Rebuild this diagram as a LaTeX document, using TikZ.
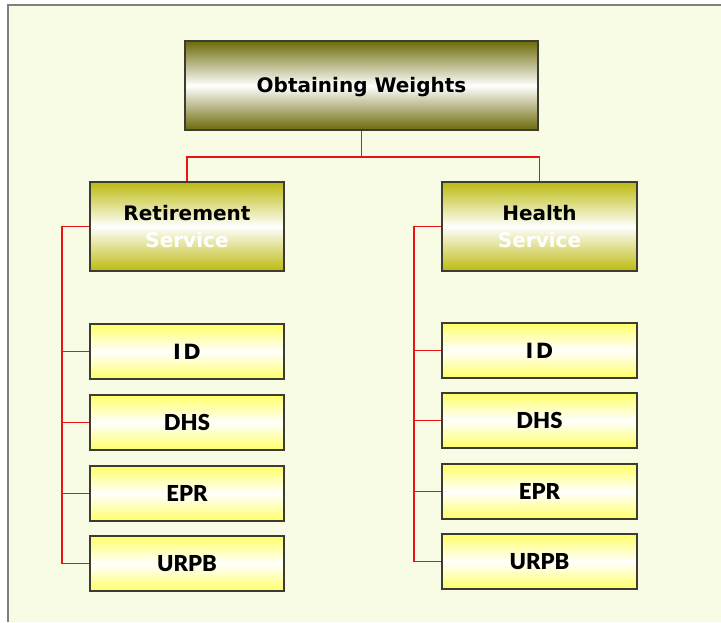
\documentclass[tikz,border=0pt]{standalone}
\usepackage{fontspec}
\setmainfont{DejaVu Sans}
\newfontfamily\latofont{Lato}[BoldFont={Lato Black}]
\usetikzlibrary{shadows}
\definecolor{pagebg}{RGB}{249,252,229}
\definecolor{framegray}{RGB}{128,128,128}
\definecolor{olivedark}{RGB}{108,106,8}
\definecolor{olivemid}{RGB}{188,186,14}
\definecolor{lemon}{RGB}{255,255,102}
\definecolor{boxline}{RGB}{60,60,50}
\definecolor{linkred}{RGB}{235,20,20}
\begin{document}
\begin{tikzpicture}[x=1pt,y=-1pt,
  basebox/.style={draw=boxline, line width=1.1pt, inner sep=0pt, align=center,
    shading=axis, middle color=white,
    drop shadow={shadow xshift=1.2pt, shadow yshift=-1.2pt, opacity=0.45, fill=black!60}},
  rootbox/.style={basebox, top color=olivedark, bottom color=olivedark, middle color=white,
    minimum width=353pt, minimum height=89pt,
    font=\fontsize{20}{24}\selectfont\bfseries, text height=14.6pt, text depth=0pt},
  groupbox/.style={basebox, top color=olivemid, bottom color=olivemid, middle color=white,
    minimum width=194pt, minimum height=89pt,
    font=\fontsize{20}{27}\selectfont\bfseries},
  leafbox/.style={basebox, top color=lemon, bottom color=lemon, middle color=white,
    minimum width=194pt, minimum height=55pt,
    font=\latofont\fontsize{22}{27}\selectfont\bfseries, text height=16pt, text depth=0pt},
  idlabel/.style={font=\fontsize{21}{25}\selectfont\bfseries},
  link/.style={draw=linkred, line width=1.1pt},
]
\useasboundingbox (0,0) rectangle (721,622);
% page background and frame
\fill[pagebg] (8,5) rectangle (721,622);
\draw[framegray, line width=1.6pt] (8,622) -- (8,5) -- (721,5);

% root and groups
\node[rootbox] (root) at (361.5,85.5) {Obtaining Weights};
\node[groupbox] (ret) at (187,226.5) {Retirement\\\textcolor{white}{Service}};
\node[groupbox, minimum width=195pt] (hea) at (539.5,226.5) {Health\\\textcolor{white}{Service}};

% leaves of the retirement branch
\node[leafbox, idlabel] (idL) at (187,351.5) {I\kern2.5pt D};
\node[leafbox] (dhsL) at (187,422.5) {DHS};
\node[leafbox] (eprL) at (187,493.5) {EPR};
\node[leafbox] (urpbL) at (187,563.5) {URPB};

% leaves of the health branch
\node[leafbox, idlabel, minimum width=195pt] (idR) at (539.5,350.5) {I\kern2.5pt D};
\node[leafbox, minimum width=195pt] (dhsR) at (539.5,420.5) {DHS};
\node[leafbox, minimum width=195pt] (eprR) at (539.5,491.5) {EPR};
\node[leafbox, minimum width=195pt] (urpbR) at (539.5,561.5) {URPB};

% bus from root to groups
\coordinate (busL) at (187,157);
\coordinate (busR) at (539.5,157);
\draw[link] (root.south) -- (root.south |- busL);
\draw[link] (ret.north) -- (busL) -- (busR) -- (hea.north);

% spines to the leaves
\coordinate (spineL) at (62,0);
\coordinate (spineR) at (414,0);
\draw[link] (ret.west) -- (ret.west -| spineL) -- (urpbL.west -| spineL) -- (urpbL.west);
\foreach \n in {idL,dhsL,eprL} \draw[link] (\n.west) -- (\n.west -| spineL);
\draw[link] (hea.west) -- (hea.west -| spineR) -- (urpbR.west -| spineR) -- (urpbR.west);
\foreach \n in {idR,dhsR,eprR} \draw[link] (\n.west) -- (\n.west -| spineR);
\end{tikzpicture}
\end{document}
